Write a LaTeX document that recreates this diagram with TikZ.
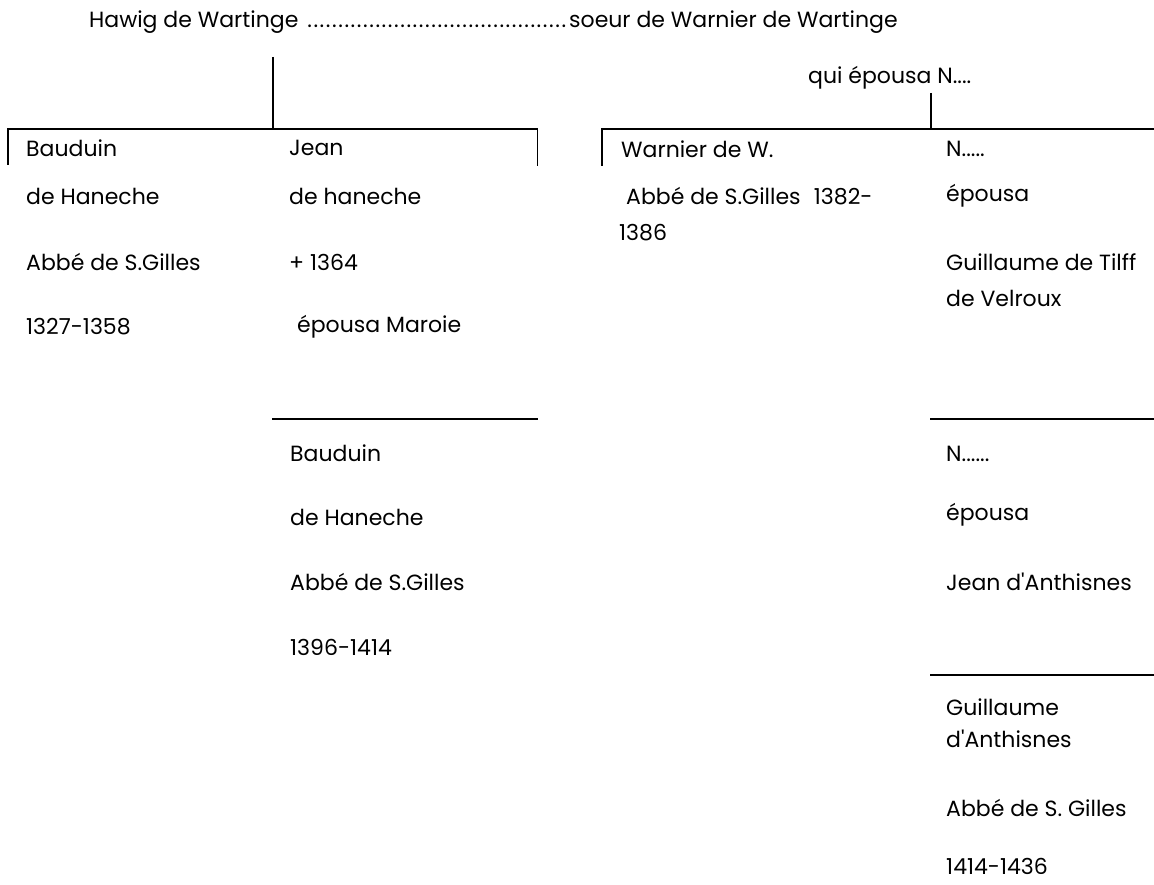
\documentclass[tikz,border=0pt]{standalone}
\usepackage{fontspec}
\setmainfont{Poppins}
\begin{document}
\begin{tikzpicture}[x=1pt,y=-1pt,
  txt/.style={anchor=west,inner sep=0pt,font=\fontsize{22}{26}\selectfont},
  rule/.style={line width=1.8pt,black}]
\useasboundingbox[fill=white] (0,0) rectangle (1154,885);
% title
\node[txt] (title) at (89,22) {\hbox to 480pt{Hawig de Wartinge \cleaders\hbox to 6.2pt{\hss.\hss}\hfill}soeur de Warnier de Wartinge};
\node[txt] (qui) at (808,78) {qui épousa N....};
% column 1
\node[txt] (c1a) at (26,148) {Bauduin};
\node[txt] (c1b) at (26,196) {de Haneche};
\node[txt] (c1c) at (26,262) {Abbé de S.Gilles};
\node[txt] (c1d) at (26,327) {1327-1358};
% column 2
\node[txt] (c2a) at (289,148) {Jean};
\node[txt] (c2b) at (289,196) {de haneche};
\node[txt] (c2c) at (289,262) {+ 1364};
\node[txt] (c2d) at (297,327) {épousa Maroie};
\node[txt] (c2e) at (290,453) {Bauduin};
\node[txt] (c2f) at (290,517) {de Haneche};
\node[txt] (c2g) at (290,582) {Abbé de S.Gilles};
\node[txt] (c2h) at (290,647) {1396-1414};
% column 3
\node[txt] (c3a) at (621,149) {Warnier de W.};
\node[txt] (c3b) at (626,196) {Abbé de S.Gilles\hspace{0.6em}1382-};
\node[txt] (c3c) at (619,233) {1386};
% column 4
\node[txt] (c4a) at (946,149) {N.....};
\node[txt] (c4b) at (946,196) {épousa};
\node[txt] (c4c) at (946,262) {Guillaume de Tilff};
\node[txt] (c4d) at (946,298) {de Velroux};
\node[txt] (c4e) at (946,454) {N......};
\node[txt] (c4f) at (946,515) {épousa};
\node[txt] (c4g) at (946,582) {Jean d\textquotesingle Anthisnes};
\node[txt] (c4h) at (946,707) {Guillaume};
\node[txt] (c4i) at (946,739) {d\textquotesingle Anthisnes};
\node[txt] (c4j) at (946,808) {Abbé de S. Gilles};
\node[txt] (c4k) at (946,866) {1414-1436};
% connector coordinates
\coordinate (v1t) at (272.7,57);
\coordinate (v1b) at (272.7,129);
\coordinate (h1l) at (8,129);
\coordinate (h1r) at (537.5,129);
\coordinate (t1l) at (8,165);
\coordinate (t1r) at (537.5,166);
\coordinate (v2t) at (931,93);
\coordinate (v2b) at (931,129);
\coordinate (h2l) at (602,129);
\coordinate (h2r) at (1154,129);
\coordinate (t2l) at (602,166);
\coordinate (h3l) at (272,419);
\coordinate (h3r) at (537.5,419);
\coordinate (h4l) at (930,419);
\coordinate (h4r) at (1154,419);
\coordinate (h5l) at (930,675);
\coordinate (h5r) at (1154,675);
% lines
\draw[rule] (v1t) -- (v1b);
\draw[rule] (t1l) -- (h1l) -- (h1r) -- (t1r);
\draw[rule] (v2t) -- (v2b);
\draw[rule] (t2l) -- (h2l) -- (h2r);
\draw[rule] (h3l) -- (h3r);
\draw[rule] (h4l) -- (h4r);
\draw[rule] (h5l) -- (h5r);
\end{tikzpicture}
\end{document}
